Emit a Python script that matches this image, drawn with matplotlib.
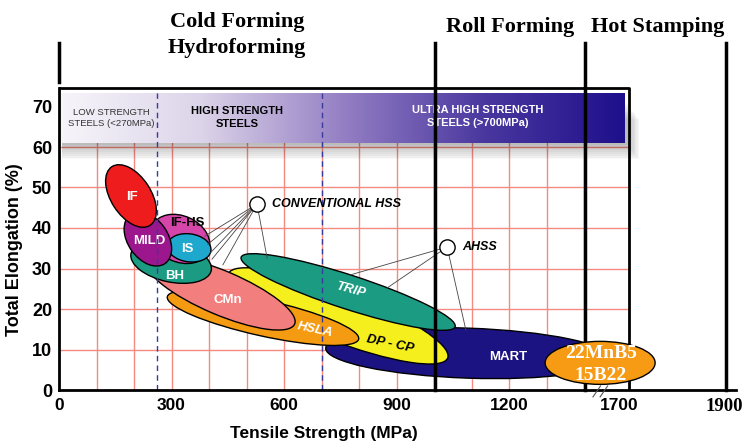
import numpy as np
import matplotlib
matplotlib.use("Agg")
from matplotlib import pyplot as plt
from matplotlib.patches import Ellipse, Rectangle
from matplotlib.colors import LinearSegmentedColormap
from matplotlib.transforms import Affine2D

SANS = "Liberation Sans"
SERIF = "Liberation Serif"

# steel families, drawn from back to front: centre (tensile MPa, elongation %)
grades = ["MART", "DP - CP", "TRIP", "HSLA", "CMn", "BH", "IF-HS", "IS", "MILD", "IF", "22MnB5"]
grade_mpa = [1091, 744, 771, 544, 432, 299, 323, 347, 237, 192, 1443]
grade_elong = [9.1, 18.3, 24.2, 17.8, 24.0, 31.6, 37.3, 35.1, 37.3, 47.9, 6.7]
# label anchor for each family
label_mpa = [1197, 883, 776, 683, 451, 309, 341, 341, 240, 195, 1445]
label_elong = [8.1, 11.4, 24.7, 14.8, 22.2, 28.1, 41.2, 34.8, 36.8, 47.7, 6.4]

# ellipse shape on screen (length px, thickness px, tilt deg)
shape_len = [285, 235, 225, 196, 160, 82, 62, 44, 60, 70, 110]
shape_thk = [50, 50, 34, 36, 44, 40, 46, 28, 40, 40, 43]
shape_ang = [-2, -21, -18, -12.5, -23, -12, -25, -8, -55, -57, 0]
colors = ["#1C1383", "#F6EF1E", "#1B9B82", "#F59B12", "#F27E7E", "#1B9B82",
          "#D646AA", "#1EA8CE", "#9C168E", "#EE1C1C", "#F79A14"]
label_colors = ["white", "black", "white", "white", "white", "white",
                "black", "white", "white", "white", "white"]
label_rot = [0, -12, -15, -12, 0, 0, 0, 0, 0, 0, 0]
label_style = ["normal", "italic", "italic", "italic", "normal", "normal",
               "normal", "normal", "normal", "normal", "normal"]

# callouts
conv_hss = (528, 45.9)
conv_mpa = [389, 397, 403, 408, 437, 555]
conv_elong = [38.0, 36.0, 33.8, 32.3, 30.9, 32.6]
ahss = (1035, 35.3)
ahss_mpa = [776, 875, 1085]
ahss_elong = [28.4, 25.2, 14.8]

# strength class boundaries and forming process windows
class_edges = [262, 700]
process_edges = [1003, 1403, 1779]
process_names = ["Roll Forming", "Hot Stamping"]
process_label_mpa = [1203, 1597]

xtick_pos = [0, 300, 600, 900, 1200, 1493, 1773]
xtick_labels = ["0", "300", "600", "900", "1200", "1700", "1900"]
ytick_pos = [0, 10, 20, 30, 40, 50, 60, 70]

# layout in pixels
W, H = 752, 448
X0, Y0 = 59, 390
SX, SY = 0.375, 4.05
XMAX, YMAX = (736 - X0) / SX, 75

fig = plt.figure(figsize=(W / 100, H / 100), dpi=100)
ax = fig.add_axes([X0 / W, (H - Y0) / H, XMAX * SX / W, YMAX * SY / H])
for s in ax.spines.values():
    s.set_visible(False)

grid_c = "#F48A80"
frame_r, frame_t = 1520, 74.6
for x in range(100, 1500, 100):
    ax.plot([x, x], [0, 61], color=grid_c, lw=1, zorder=1)
for y in range(10, 70, 10):
    ax.plot([0, frame_r], [y, y], color=grid_c, lw=1, zorder=1)

# banner with shadow
for k in range(1, 10):
    ax.add_patch(Rectangle((8, 61 - k * 0.45), 1507 + k * 3.5, 10, color="black",
                           alpha=0.03, lw=0, zorder=2))
cmap = LinearSegmentedColormap.from_list(
    "banner", ["#F7F5FA", "#DCD4E9", "#9580C4", "#4A389F", "#1E108B"])
ax.imshow(np.linspace(0, 1, 256).reshape(1, -1), extent=[0, 1507, 61, 73.3],
          aspect="auto", cmap=cmap, zorder=3)
ax.text(139, 67.2, "LOW STRENGTH\nSTEELS (<270MPa)", ha="center", va="center",
        fontsize=6.8, family=SANS, color="#333333", zorder=4, linespacing=1.3)
ax.text(475, 67.2, "HIGH STRENGTH\nSTEELS", ha="center", va="center", fontsize=8,
        family=SANS, weight="bold", color="black", zorder=4, linespacing=1.4)
ax.text(1117, 67.6, "ULTRA HIGH STRENGTH\nSTEELS (>700MPa)", ha="center", va="center",
        fontsize=8, family=SANS, weight="bold", color="white", zorder=4, linespacing=1.4)

# steel family ellipses (22MnB5 sits on top of the process lines)
pix = Affine2D().scale(1 / SX, 1 / SY) + ax.transData
for i, g in enumerate(grades):
    z = 13 if g == "22MnB5" else 5 + i * 0.1
    ax.add_patch(Ellipse((grade_mpa[i] * SX, grade_elong[i] * SY), shape_len[i], shape_thk[i],
                         angle=shape_ang[i], facecolor=colors[i], edgecolor="black",
                         lw=1, transform=pix, zorder=z, clip_on=False))
for i, g in enumerate(grades):
    if g == "22MnB5":
        ax.text(label_mpa[i], 9.1, "22MnB5", ha="center", va="center", fontsize=14,
                family=SERIF, weight="bold", color="white", zorder=14)
        ax.text(label_mpa[i], 3.7, "15B22", ha="center", va="center", fontsize=14,
                family=SERIF, weight="bold", color="white", zorder=14)
        continue
    ax.text(label_mpa[i], label_elong[i], g, ha="center", va="center", fontsize=9.5,
            family=SANS, weight="bold", style=label_style[i], color=label_colors[i],
            rotation=label_rot[i], zorder=7)

# dashed class boundaries
for x in class_edges:
    ax.plot([x, x], [0, 73.3], color="#3A3A9A", lw=1, ls=(0, (4, 3)), zorder=8)

# callouts
for (cx, cy), xs, ys, txt in [(conv_hss, conv_mpa, conv_elong, "CONVENTIONAL HSS"),
                              (ahss, ahss_mpa, ahss_elong, "AHSS")]:
    for x, y in zip(xs, ys):
        ax.plot([cx, x], [cy, y], color="#444444", lw=0.6, zorder=8)
    ax.plot(cx, cy, "o", ms=11, mfc="white", mec="black", mew=1, zorder=9)
    ax.text(cx + 40, cy, txt, ha="left", va="center", fontsize=9, family=SANS,
            weight="bold", style="italic", color="black", zorder=9)

# frame and axes lines
ax.plot([0, frame_r, frame_r], [frame_t, frame_t, 0], color="black", lw=2, zorder=10)
ax.plot([0, 0], [0, frame_t], color="black", lw=2, zorder=10, clip_on=False)
ax.plot([0, XMAX], [0, 0], color="black", lw=2, zorder=10, clip_on=False)
for x in [1424, 1443]:
    ax.plot([x, x + 20], [-1.7, 1.0], color="#555555", lw=0.8, zorder=11, clip_on=False)

# forming process windows
ax.plot([0, 0], [76, 85.7], color="black", lw=2.5, clip_on=False)
for x in process_edges:
    ax.plot([x, x], [0, 85.7], color="black", lw=2.5, zorder=12, clip_on=False)
ax.text(475, 90.9, "Cold Forming", ha="center", va="center", fontsize=16,
        family=SERIF, weight="bold", clip_on=False)
ax.text(475, 84.4, "Hydroforming", ha="center", va="center", fontsize=16,
        family=SERIF, weight="bold", clip_on=False)
for x, name in zip(process_label_mpa, process_names):
    ax.text(x, 89.7, name, ha="center", va="center", fontsize=16,
            family=SERIF, weight="bold", clip_on=False)

ax.set_xlim(0, XMAX)
ax.set_ylim(0, YMAX)
ax.set_xticks(xtick_pos)
ax.set_xticklabels(xtick_labels, fontsize=12.5, family=SANS, weight="bold")
ax.set_yticks(ytick_pos)
ax.set_yticklabels([str(v) for v in ytick_pos], fontsize=13, family=SANS, weight="bold")
ax.get_xticklabels()[-1].set_family(SERIF)
ax.get_xticklabels()[-1].set_fontsize(13.5)
ax.tick_params(axis="x", length=0, pad=6)
ax.tick_params(axis="y", length=0, pad=5)

fig.text(324 / W, 1 - 433 / H, "Tensile Strength (MPa)", ha="center", va="center",
         fontsize=12.5, family=SANS, weight="bold")
fig.text(15 / W, 1 - 250 / H, "Total Elongation (%)", ha="center", va="center",
         rotation=90, fontsize=13, family=SANS, weight="bold")

fig.savefig("out.png", dpi=100)
